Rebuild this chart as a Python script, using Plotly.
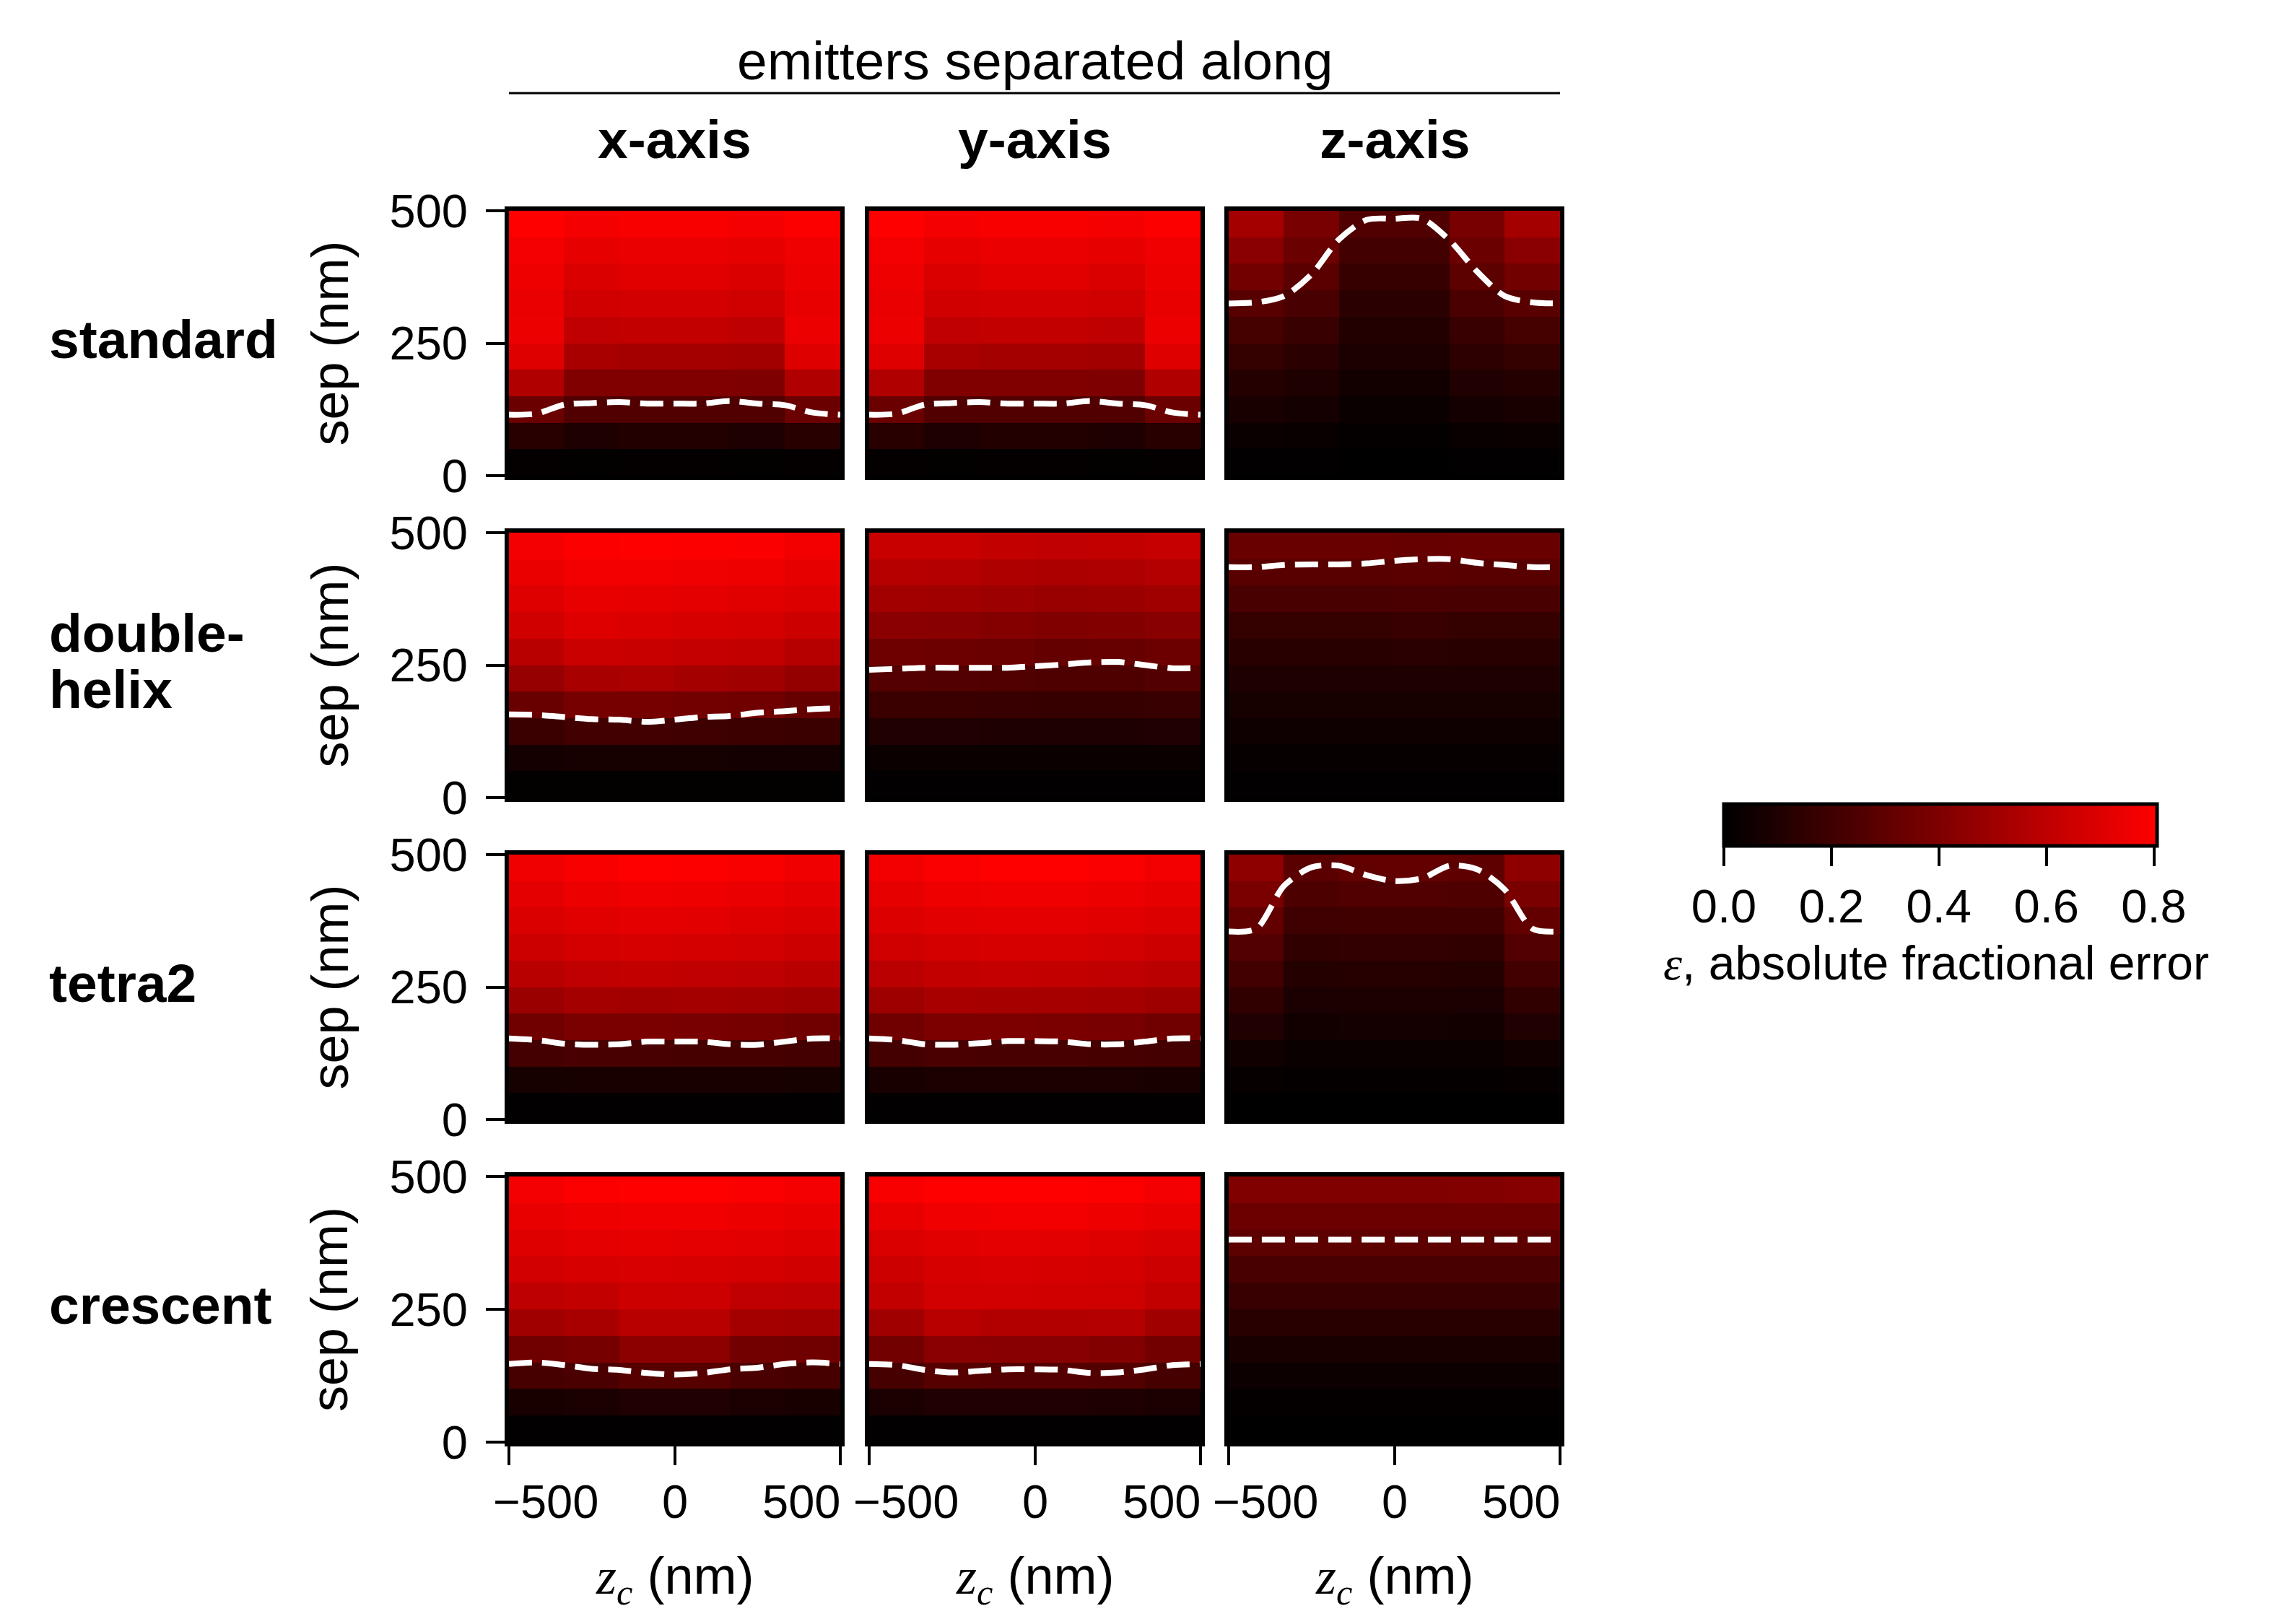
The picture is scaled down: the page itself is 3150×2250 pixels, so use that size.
import plotly.graph_objects as go

# cell centres
zc = [-416.7, -250.0, -83.3, 83.3, 250.0, 416.7]
sep = [25, 75, 125, 175, 225, 275, 325, 375, 425, 475]

# absolute fractional error, rows bottom (sep=25) -> top (sep=475)
standard_x = [
    [0.013, 0.009, 0.013, 0.013, 0.009, 0.013],
    [0.126, 0.095, 0.107, 0.107, 0.095, 0.126],
    [0.335, 0.253, 0.253, 0.253, 0.253, 0.335],
    [0.556, 0.405, 0.405, 0.405, 0.398, 0.556],
    [0.702, 0.531, 0.522, 0.522, 0.512, 0.702],
    [0.746, 0.607, 0.613, 0.613, 0.601, 0.746],
    [0.740, 0.657, 0.664, 0.664, 0.651, 0.733],
    [0.752, 0.689, 0.708, 0.708, 0.689, 0.746],
    [0.771, 0.727, 0.740, 0.740, 0.727, 0.759],
    [0.806, 0.774, 0.784, 0.784, 0.774, 0.797],
]
standard_y = [
    [0.013, 0.009, 0.013, 0.013, 0.009, 0.013],
    [0.126, 0.095, 0.107, 0.107, 0.095, 0.126],
    [0.335, 0.253, 0.253, 0.253, 0.253, 0.335],
    [0.556, 0.405, 0.405, 0.405, 0.398, 0.556],
    [0.702, 0.531, 0.522, 0.522, 0.512, 0.702],
    [0.746, 0.607, 0.613, 0.613, 0.601, 0.746],
    [0.740, 0.657, 0.664, 0.664, 0.651, 0.733],
    [0.752, 0.689, 0.708, 0.708, 0.689, 0.746],
    [0.771, 0.727, 0.740, 0.740, 0.727, 0.759],
    [0.806, 0.774, 0.784, 0.784, 0.774, 0.797],
]
standard_z = [
    [0.006, 0.006, 0.003, 0.003, 0.006, 0.006],
    [0.032, 0.025, 0.013, 0.013, 0.025, 0.032],
    [0.076, 0.063, 0.032, 0.032, 0.063, 0.076],
    [0.117, 0.095, 0.057, 0.057, 0.101, 0.117],
    [0.168, 0.133, 0.082, 0.082, 0.139, 0.168],
    [0.218, 0.177, 0.107, 0.107, 0.177, 0.218],
    [0.278, 0.228, 0.133, 0.133, 0.234, 0.278],
    [0.360, 0.284, 0.171, 0.171, 0.291, 0.360],
    [0.436, 0.335, 0.209, 0.209, 0.335, 0.436],
    [0.522, 0.379, 0.253, 0.253, 0.379, 0.522],
]
dh_x = [
    [0.009, 0.009, 0.009, 0.009, 0.009, 0.009],
    [0.063, 0.070, 0.070, 0.070, 0.063, 0.063],
    [0.183, 0.209, 0.209, 0.196, 0.190, 0.183],
    [0.332, 0.373, 0.373, 0.363, 0.354, 0.316],
    [0.474, 0.531, 0.537, 0.522, 0.506, 0.468],
    [0.585, 0.639, 0.632, 0.620, 0.613, 0.575],
    [0.657, 0.702, 0.689, 0.680, 0.670, 0.648],
    [0.702, 0.733, 0.727, 0.721, 0.711, 0.695],
    [0.743, 0.765, 0.765, 0.759, 0.752, 0.727],
    [0.774, 0.797, 0.806, 0.797, 0.790, 0.765],
]
dh_y = [
    [0.006, 0.006, 0.006, 0.006, 0.006, 0.006],
    [0.032, 0.032, 0.032, 0.032, 0.032, 0.032],
    [0.101, 0.101, 0.098, 0.095, 0.095, 0.101],
    [0.183, 0.183, 0.177, 0.171, 0.171, 0.177],
    [0.265, 0.259, 0.253, 0.247, 0.247, 0.259],
    [0.348, 0.341, 0.335, 0.316, 0.322, 0.341],
    [0.436, 0.430, 0.417, 0.405, 0.411, 0.430],
    [0.512, 0.506, 0.493, 0.480, 0.487, 0.506],
    [0.575, 0.569, 0.553, 0.544, 0.550, 0.569],
    [0.632, 0.632, 0.616, 0.607, 0.613, 0.626],
]
dh_z = [
    [0.006, 0.006, 0.006, 0.006, 0.006, 0.006],
    [0.019, 0.019, 0.019, 0.019, 0.019, 0.019],
    [0.044, 0.044, 0.044, 0.044, 0.044, 0.044],
    [0.070, 0.070, 0.070, 0.070, 0.070, 0.070],
    [0.095, 0.095, 0.095, 0.098, 0.095, 0.095],
    [0.126, 0.126, 0.126, 0.133, 0.126, 0.126],
    [0.168, 0.168, 0.168, 0.177, 0.168, 0.168],
    [0.228, 0.228, 0.228, 0.234, 0.228, 0.228],
    [0.278, 0.278, 0.278, 0.284, 0.278, 0.278],
    [0.329, 0.329, 0.329, 0.322, 0.329, 0.329],
]
tetra_x = [
    [0.006, 0.006, 0.006, 0.006, 0.006, 0.006],
    [0.070, 0.076, 0.076, 0.076, 0.076, 0.070],
    [0.215, 0.228, 0.228, 0.221, 0.221, 0.215],
    [0.354, 0.386, 0.386, 0.379, 0.373, 0.354],
    [0.490, 0.522, 0.512, 0.522, 0.512, 0.499],
    [0.585, 0.607, 0.613, 0.607, 0.601, 0.585],
    [0.648, 0.670, 0.676, 0.670, 0.664, 0.648],
    [0.689, 0.708, 0.721, 0.714, 0.702, 0.689],
    [0.721, 0.746, 0.759, 0.752, 0.740, 0.721],
    [0.759, 0.784, 0.806, 0.797, 0.784, 0.759],
]
tetra_y = [
    [0.006, 0.006, 0.006, 0.006, 0.006, 0.006],
    [0.076, 0.082, 0.082, 0.082, 0.082, 0.076],
    [0.215, 0.234, 0.228, 0.228, 0.221, 0.215],
    [0.354, 0.392, 0.392, 0.386, 0.379, 0.354],
    [0.499, 0.531, 0.525, 0.525, 0.518, 0.499],
    [0.588, 0.616, 0.620, 0.613, 0.607, 0.588],
    [0.651, 0.670, 0.676, 0.676, 0.664, 0.648],
    [0.695, 0.714, 0.721, 0.721, 0.708, 0.695],
    [0.727, 0.752, 0.759, 0.759, 0.746, 0.727],
    [0.765, 0.790, 0.806, 0.806, 0.790, 0.765],
]
tetra_z = [
    [0.003, 0.003, 0.003, 0.003, 0.003, 0.003],
    [0.019, 0.016, 0.016, 0.016, 0.016, 0.019],
    [0.051, 0.032, 0.032, 0.032, 0.032, 0.051],
    [0.101, 0.057, 0.063, 0.063, 0.057, 0.101],
    [0.152, 0.082, 0.088, 0.088, 0.082, 0.152],
    [0.209, 0.114, 0.120, 0.120, 0.114, 0.209],
    [0.259, 0.152, 0.158, 0.158, 0.152, 0.259],
    [0.310, 0.196, 0.202, 0.202, 0.202, 0.310],
    [0.386, 0.240, 0.253, 0.253, 0.247, 0.386],
    [0.449, 0.284, 0.310, 0.310, 0.297, 0.449],
]
cres_x = [
    [0.006, 0.006, 0.006, 0.006, 0.006, 0.006],
    [0.076, 0.082, 0.101, 0.101, 0.082, 0.076],
    [0.221, 0.234, 0.272, 0.272, 0.234, 0.221],
    [0.354, 0.373, 0.443, 0.443, 0.363, 0.354],
    [0.506, 0.531, 0.582, 0.582, 0.522, 0.512],
    [0.601, 0.616, 0.648, 0.645, 0.607, 0.601],
    [0.664, 0.680, 0.683, 0.676, 0.670, 0.657],
    [0.702, 0.721, 0.727, 0.721, 0.714, 0.702],
    [0.733, 0.752, 0.759, 0.759, 0.746, 0.733],
    [0.774, 0.797, 0.806, 0.806, 0.790, 0.774],
]
cres_y = [
    [0.006, 0.006, 0.006, 0.006, 0.006, 0.006],
    [0.082, 0.101, 0.101, 0.101, 0.095, 0.082],
    [0.221, 0.272, 0.265, 0.265, 0.259, 0.221],
    [0.360, 0.436, 0.430, 0.430, 0.411, 0.363],
    [0.506, 0.582, 0.563, 0.563, 0.569, 0.506],
    [0.613, 0.664, 0.664, 0.660, 0.651, 0.613],
    [0.648, 0.676, 0.683, 0.676, 0.670, 0.645],
    [0.689, 0.711, 0.721, 0.714, 0.702, 0.683],
    [0.733, 0.759, 0.765, 0.765, 0.752, 0.733],
    [0.784, 0.806, 0.806, 0.806, 0.797, 0.774],
]
cres_z = [
    [0.003, 0.003, 0.003, 0.003, 0.003, 0.003],
    [0.013, 0.013, 0.013, 0.013, 0.013, 0.013],
    [0.038, 0.038, 0.038, 0.038, 0.038, 0.038],
    [0.076, 0.076, 0.076, 0.076, 0.076, 0.076],
    [0.126, 0.126, 0.126, 0.126, 0.126, 0.126],
    [0.177, 0.177, 0.177, 0.177, 0.177, 0.177],
    [0.228, 0.228, 0.228, 0.228, 0.228, 0.228],
    [0.291, 0.291, 0.291, 0.291, 0.291, 0.291],
    [0.341, 0.341, 0.341, 0.341, 0.341, 0.341],
    [0.405, 0.405, 0.405, 0.405, 0.411, 0.424],
]

# dashed contour lines (sep in nm at each zc)
line_zc = [-500, -417, -333, -250, -167, -83, 0, 83, 167, 250, 333, 417, 500]
standard_x_line = [115, 117, 134, 137, 139, 136, 136, 136, 141, 136, 133, 119, 115]
standard_y_line = [115, 117, 134, 137, 139, 136, 136, 136, 141, 136, 133, 119, 115]
standard_z_line = [325, 327, 339, 380, 446, 483, 485, 485, 444, 385, 339, 327, 325]
dh_x_line = [157, 156, 152, 148, 147, 143, 147, 152, 154, 160, 163, 167, 169]
dh_y_line = [241, 243, 245, 245, 245, 245, 248, 251, 255, 256, 250, 244, 245]
dh_z_line = [435, 435, 439, 440, 440, 442, 447, 450, 450, 443, 439, 435, 435]
tetra_x_line = [153, 150, 143, 141, 142, 147, 147, 147, 142, 141, 147, 153, 153]
tetra_y_line = [153, 150, 142, 141, 144, 148, 148, 147, 142, 142, 147, 153, 153]
tetra_z_line = [355, 360, 441, 476, 479, 461, 450, 455, 479, 472, 434, 360, 355]
cres_x_line = [147, 150, 145, 138, 136, 130, 127, 130, 137, 140, 147, 150, 147]
cres_y_line = [147, 145, 136, 131, 134, 137, 137, 136, 130, 131, 137, 145, 147]
cres_z_line = [381, 381, 381, 381, 381, 381, 381, 381, 381, 381, 381, 381, 381]

row_names = [["standard"], ["double-", "helix"], ["tetra2"], ["crescent"]]
col_names = ["x-axis", "y-axis", "z-axis"]
x_tickvals = [-500, 0, 500]
x_ticktext = ["\u2212500", "0", "500"]
y_tickvals = [0, 250, 500]
cbar_ticks = [0.0, 0.2, 0.4, 0.6, 0.8]

grids = [[standard_x, standard_y, standard_z],
         [dh_x, dh_y, dh_z],
         [tetra_x, tetra_y, tetra_z],
         [cres_x, cres_y, cres_z]]
lines = [[standard_x_line, standard_y_line, standard_z_line],
         [dh_x_line, dh_y_line, dh_z_line],
         [tetra_x_line, tetra_y_line, tetra_z_line],
         [cres_x_line, cres_y_line, cres_z_line]]

W, H = 3150, 2250
FONT = "Liberation Sans, Arial, sans-serif"
SERIF = "Liberation Serif, Times New Roman, serif"
BLACK = "black"
TICK_SIZE = 65

# panel pixel boxes
col_px = [(697, 1156), (1196, 1655), (1694, 2153)]
row_px = [(284, 651), (730, 1097), (1176, 1543), (1622, 1990)]


def fx(px):
    return px / W


def fy(py):
    return 1 - py / H


def label(text, x, y, size, **kw):
    d = dict(text=text, x=x, y=y, xref="paper", yref="paper", showarrow=False,
             xanchor="center", yanchor="middle",
             font=dict(size=size, family=FONT, color=BLACK))
    d.update(kw)
    return d


fig = go.Figure()
layout_axes = {}
ann = []
k = 0
for r in range(4):
    for c in range(3):
        k += 1
        xa = "x" if k == 1 else f"x{k}"
        ya = "y" if k == 1 else f"y{k}"
        fig.add_trace(go.Heatmap(x=zc, y=sep, z=grids[r][c], coloraxis="coloraxis",
                                 xaxis=xa, yaxis=ya, hoverinfo="skip"))
        fig.add_trace(go.Scatter(x=line_zc, y=lines[r][c], mode="lines",
                                 line=dict(color="white", width=8, dash="32px,14px",
                                           shape="spline", smoothing=0.8),
                                 xaxis=xa, yaxis=ya, showlegend=False, hoverinfo="skip"))
        bottom = r == 3
        left = c == 0
        layout_axes["xaxis" if k == 1 else f"xaxis{k}"] = dict(
            domain=[fx(col_px[c][0]), fx(col_px[c][1])], anchor=ya, automargin=False,
            range=[-500, 500], showgrid=False, zeroline=False,
            showline=True, mirror=True, linecolor=BLACK, linewidth=6,
            ticks="outside" if bottom else "", ticklen=26, tickwidth=4, tickcolor=BLACK,
            tickvals=x_tickvals, showticklabels=False)
        layout_axes["yaxis" if k == 1 else f"yaxis{k}"] = dict(
            domain=[fy(row_px[r][1]), fy(row_px[r][0])], anchor=xa, automargin=False,
            range=[0, 500], showgrid=False, zeroline=False,
            showline=True, mirror=True, linecolor=BLACK, linewidth=6,
            ticks="outside" if left else "", ticklen=26, tickwidth=4, tickcolor=BLACK,
            tickvals=y_tickvals, showticklabels=left,
            tickfont=dict(size=TICK_SIZE, color=BLACK, family=FONT), ticklabelstandoff=12)
        if bottom:
            # bottom tick labels: outer ones pulled inward as in the original
            anchors = ["left", "center", "right"]
            shifts = [-24, 0, 2]
            for tv, tt, an, sh in zip(x_tickvals, x_ticktext, anchors, shifts):
                ann.append(dict(text=tt, x=tv, xref=xa, y=fy(2072), yref="paper",
                                xanchor=an, yanchor="middle", xshift=sh, showarrow=False,
                                font=dict(size=TICK_SIZE, family=FONT, color=BLACK)))

ann.append(label("emitters separated along", fx(1425), fy(76), 75))
for c in range(3):
    cx = fx((col_px[c][0] + col_px[c][1]) / 2)
    ann.append(label(f"<b>{col_names[c]}</b>", cx, fy(185), 75))
    ann.append(label(f'<span style="font-family:{SERIF}"><i>z<sub>c</sub></i></span> (nm)',
                     cx, fy(2180), 72))
for r in range(4):
    cy_px = (row_px[r][0] + row_px[r][1]) / 2 - 6
    parts = row_names[r]
    for i, part in enumerate(parts):
        off = (i - (len(parts) - 1) / 2) * 78
        ann.append(label(f"<b>{part}</b>", fx(58), fy(cy_px + off), 75, xanchor="left"))
    ann.append(label("sep (nm)", fx(448), fy(cy_px + 6), 72, textangle=-90))
ann.append(label(f'<span style="font-family:{SERIF}"><i>ε</i></span>, absolute fractional error',
                 fx(2674), fy(1326), 66))

fig.update_layout(
    template="none",
    width=W, height=H, margin=dict(l=0, r=0, t=0, b=0, pad=0, autoexpand=False),
    paper_bgcolor="white", plot_bgcolor="white", showlegend=False,
    font=dict(family=FONT, color=BLACK),
    coloraxis=dict(
        colorscale=[[0, "#000000"], [1, "#ff0000"]], cmin=0, cmax=0.806,
        colorbar=dict(orientation="h", x=fx(2680), xanchor="center", y=fy(1106), yanchor="top",
                      len=600, lenmode="pixels", thickness=58, thicknessmode="pixels",
                      outlinewidth=5, outlinecolor=BLACK, xpad=0, ypad=0,
                      ticks="outside", ticklen=26, tickwidth=4, tickcolor=BLACK,
                      tickvals=cbar_ticks, tickformat=".1f",
                      tickfont=dict(size=TICK_SIZE, family=FONT, color=BLACK))),
    annotations=ann,
    shapes=[dict(type="line", xref="paper", yref="paper", x0=fx(697), x1=fx(2153),
                 y0=fy(121), y1=fy(121), line=dict(color=BLACK, width=3))],
    **layout_axes,
)

fig.write_html("out.html")
